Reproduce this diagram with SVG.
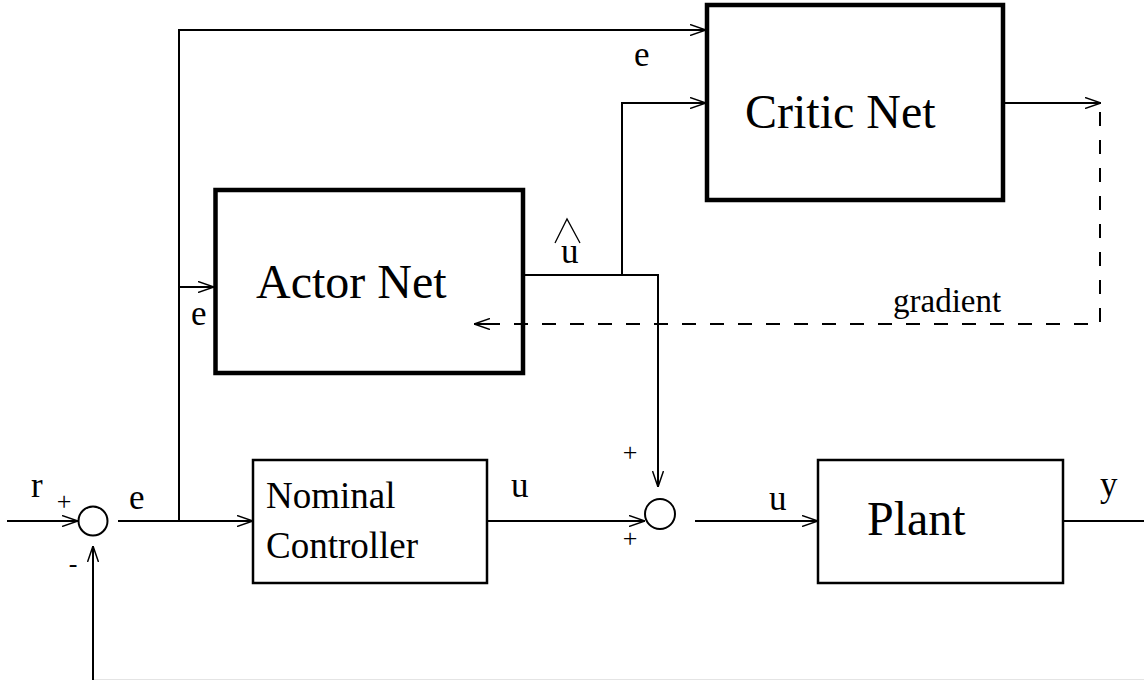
<svg xmlns="http://www.w3.org/2000/svg" width="1144" height="680" viewBox="0 0 1144 680">
<style>
.ln{fill:none;stroke:#000;stroke-width:2}
.dash{fill:none;stroke:#000;stroke-width:2;stroke-dasharray:14 14}
.thick{fill:none;stroke:#000;stroke-width:4.5}
.thin{fill:none;stroke:#000;stroke-width:2.5}
.t{font-family:"Liberation Serif","Times New Roman",serif;fill:#000}
.big{font-size:48px}
.mid{font-size:37px}
.lab{font-size:35px}
.sgn{font-size:26px;text-anchor:middle}
</style>
<defs>
<marker id="arr" viewBox="0 0 16 12" markerWidth="16" markerHeight="12" refX="16" refY="6" orient="auto" markerUnits="userSpaceOnUse">
<path d="M0,0.5 L16,6 L0,11.5" fill="none" stroke="#000" stroke-width="1.5"/>
</marker>
</defs>
<rect width="1144" height="680" fill="#fff"/>
<g id="connectors">
<line class="ln" x1="7" y1="521" x2="78" y2="521" marker-end="url(#arr)"/>
<line class="ln" x1="118" y1="521" x2="253" y2="521" marker-end="url(#arr)"/>
<polyline class="ln" points="179,521 179,30 706,30" marker-end="url(#arr)"/>
<line class="ln" x1="179" y1="287" x2="214" y2="287" marker-end="url(#arr)"/>
<polyline class="ln" points="523,275 658,275 658,487" marker-end="url(#arr)"/>
<polyline class="ln" points="622,275 622,103 706,103" marker-end="url(#arr)"/>
<line class="ln" x1="1003" y1="103" x2="1101" y2="103" marker-end="url(#arr)"/>
<polyline class="dash" points="1100,112 1100,324 490,324"/>
<line class="ln" x1="490" y1="324" x2="474" y2="324" marker-end="url(#arr)"/>
<line class="ln" x1="487" y1="521" x2="645" y2="521" marker-end="url(#arr)"/>
<line class="ln" x1="695" y1="521" x2="818" y2="521" marker-end="url(#arr)"/>
<line class="ln" x1="1063" y1="521" x2="1144" y2="521"/>
<line class="ln" x1="93" y1="680" x2="93" y2="546" marker-end="url(#arr)"/>
<line x1="94" y1="679.5" x2="1144" y2="679.5" stroke="#e4e4e4" stroke-width="1"/>
</g>
<g id="sum1">
<circle cx="93" cy="521" r="14.5" fill="none" stroke="#000" stroke-width="2"/>
</g>
<g id="sum2">
<circle cx="660" cy="514" r="15" fill="none" stroke="#000" stroke-width="2"/>
</g>
<g id="critic">
<rect class="thick" x="707" y="5" width="296" height="195"/>
<text class="t big" x="745" y="128">Critic Net</text>
</g>
<g id="actor">
<rect class="thick" x="215.5" y="190" width="307.5" height="183"/>
<text class="t big" x="256" y="298">Actor Net</text>
</g>
<g id="nominal">
<rect class="thin" x="253" y="460" width="234" height="123"/>
<text class="t mid" x="266" y="508">Nominal</text>
<text class="t mid" x="266" y="558">Controller</text>
</g>
<g id="plant">
<rect class="thin" x="818" y="460" width="245" height="123"/>
<text class="t big" x="867" y="535">Plant</text>
</g>
<g id="labels">
<text class="t lab" x="31" y="497">r</text>
<text class="t sgn" x="64" y="510">+</text>
<text class="t sgn" x="73" y="572">-</text>
<text class="t lab" x="129" y="509">e</text>
<text class="t lab" x="634" y="66">e</text>
<text class="t lab" x="191" y="325">e</text>
<text class="t lab" x="561" y="263">u</text>
<polyline points="555,243 567,219 580,243" fill="none" stroke="#000" stroke-width="1.3"/>
<text class="t lab" x="511" y="497">u</text>
<text class="t sgn" x="630" y="461">+</text>
<text class="t sgn" x="630" y="547">+</text>
<text class="t lab" x="769" y="510">u</text>
<text class="t lab" x="1100" y="496">y</text>
<text class="t" style="font-size:33px" x="893" y="312">gradient</text>
</g>
</svg>
